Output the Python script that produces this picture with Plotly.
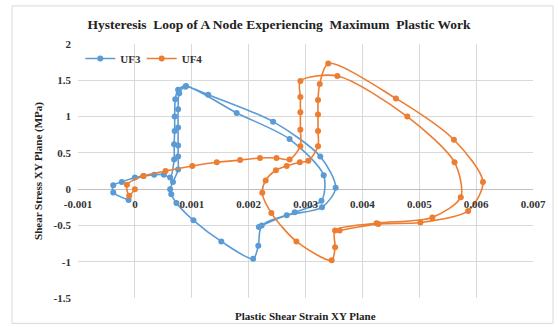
import plotly.graph_objects as go

# UF3 (blue) path
uf3_x = [-0.00011, -0.00038, -0.00038, -0.00023, 0.00000, 0.00015, 0.00034, 0.00051, 0.00062,
         0.00069, 0.00069, 0.00070, 0.00070, 0.00071, 0.00076, 0.00090,
         0.00179, 0.00272, 0.00332, 0.00328, 0.00281, 0.00223, 0.00217, 0.00208,
         0.00152, 0.00103, 0.00073, 0.00064, 0.00062, 0.00067,
         0.00076, 0.00076, 0.00076, 0.00076, 0.00076, 0.00078, 0.00089,
         0.00129, 0.00243, 0.00326, 0.00353, 0.00329, 0.00267, 0.00218]
uf3_y = [-0.15, -0.045, 0.055, 0.10, 0.16, 0.18, 0.20, 0.20, 0.16,
         0.41, 0.62, 0.80, 1.00, 1.24, 1.37, 1.42,
         1.05, 0.69, 0.19, -0.16, -0.32, -0.50, -0.78, -0.96,
         -0.72, -0.43, -0.19, -0.07, 0.00, 0.10,
         0.27, 0.45, 0.60, 0.85, 1.10, 1.32, 1.41,
         1.30, 0.93, 0.45, 0.02, -0.25, -0.36, -0.52]

# UF4 (orange) path
uf4_x = [0.00000, -0.00010, -0.00014, 0.00015, 0.00054, 0.00101, 0.00144, 0.00185, 0.00220,
         0.00249, 0.00272, 0.00291, 0.00291, 0.00291, 0.00291, 0.00291,
         0.00356, 0.00479, 0.00562, 0.00573, 0.00523, 0.00425, 0.00352, 0.00352, 0.00346,
         0.00284, 0.00240, 0.00224, 0.00230, 0.00248, 0.00267, 0.00290, 0.00305,
         0.00322, 0.00322, 0.00322, 0.00322, 0.00325, 0.00340,
         0.00459, 0.00561, 0.00612, 0.00586, 0.00502, 0.00428, 0.00360]
uf4_y = [0.00, -0.09, 0.06, 0.18, 0.25, 0.32, 0.37, 0.40, 0.43,
         0.43, 0.41, 0.59, 0.82, 1.06, 1.27, 1.49,
         1.56, 1.00, 0.37, -0.11, -0.39, -0.47, -0.57, -0.80, -0.98,
         -0.72, -0.33, -0.05, 0.12, 0.26, 0.32, 0.37, 0.39,
         0.59, 0.80, 1.03, 1.23, 1.45, 1.73,
         1.25, 0.68, 0.10, -0.30, -0.46, -0.48, -0.57]

x_ticks = [-0.001, 0, 0.001, 0.002, 0.003, 0.004, 0.005, 0.006, 0.007]
x_labels = ["-0.001", "0", "0.001", "0.002", "0.003", "0.004", "0.005", "0.006", "0.007"]
y_ticks = [-1.5, -1, -0.5, 0, 0.5, 1, 1.5, 2]
y_labels = ["-1.5", "-1", "-0.5", "0", "0.5", "1", "1.5", "2"]

BLUE = "#5B9BD5"
ORANGE = "#ED7D31"
FONT = "Liberation Serif"

fig = go.Figure()
fig.add_trace(go.Scatter(x=uf3_x, y=uf3_y, name="UF3", mode="lines+markers", legend="legend",
                         line=dict(color=BLUE, width=1.6, shape="spline", smoothing=0.8),
                         marker=dict(color=BLUE, size=6)))
fig.add_trace(go.Scatter(x=uf4_x, y=uf4_y, name="UF4", mode="lines+markers", legend="legend2",
                         line=dict(color=ORANGE, width=1.6, shape="spline", smoothing=0.8),
                         marker=dict(color=ORANGE, size=6)))

leg_font = dict(family=FONT, size=11, color="#333333", weight="bold")

fig.update_layout(
    width=558, height=327,
    margin=dict(l=78, r=25, t=44, b=29),
    paper_bgcolor="white", plot_bgcolor="white",
    font=dict(family=FONT, size=11, color="#333333", weight="bold"),
    title=dict(text="Hysteresis  Loop of A Node Experiencing  Maximum  Plastic Work",
               x=0.5, xanchor="center", y=0.925, yanchor="middle",
               font=dict(family=FONT, size=13.5, color="#222222", weight="bold")),
    showlegend=True,
    legend=dict(orientation="h", x=0.005, y=1.0, xanchor="left", yanchor="top",
                bgcolor="rgba(0,0,0,0)", font=leg_font, itemwidth=30),
    legend2=dict(orientation="h", x=0.14, y=1.0, xanchor="left", yanchor="top",
                 bgcolor="rgba(0,0,0,0)", font=leg_font, itemwidth=30),
    xaxis=dict(range=[-0.001, 0.007], tickvals=x_ticks, ticktext=x_labels,
               showgrid=True, gridcolor="#d9d9d9", gridwidth=1,
               zeroline=False, showline=False, ticks="",
               anchor="free", position=0.425, ticklabelstandoff=6,
               tickfont=dict(family=FONT, size=11, color="#333333", weight="bold")),
    yaxis=dict(range=[-1.5, 2], tickvals=y_ticks, ticktext=y_labels,
               showgrid=True, gridcolor="#d9d9d9", gridwidth=1,
               zeroline=True, zerolinecolor="#bfbfbf", zerolinewidth=1,
               showline=False, ticks="", ticklabelstandoff=6,
               title=dict(text="Shear Stress XY Plane (MPa)", standoff=8,
                          font=dict(family=FONT, size=11, color="#222222", weight="bold")),
               tickfont=dict(family=FONT, size=11, color="#333333", weight="bold")),
)

fig.add_annotation(text="Plastic Shear Strain XY Plane", xref="paper", yref="paper",
                   x=0.5, y=-0.07, xanchor="center", yanchor="middle", showarrow=False,
                   font=dict(family=FONT, size=11, color="#222222", weight="bold"))

fig.add_shape(type="rect", xref="paper", yref="paper",
              x0=-0.145, x1=1.044, y0=-0.1, y1=1.15,
              line=dict(color="#d9d9d9", width=1), fillcolor="rgba(0,0,0,0)", layer="below")

fig.write_html("out.html")
